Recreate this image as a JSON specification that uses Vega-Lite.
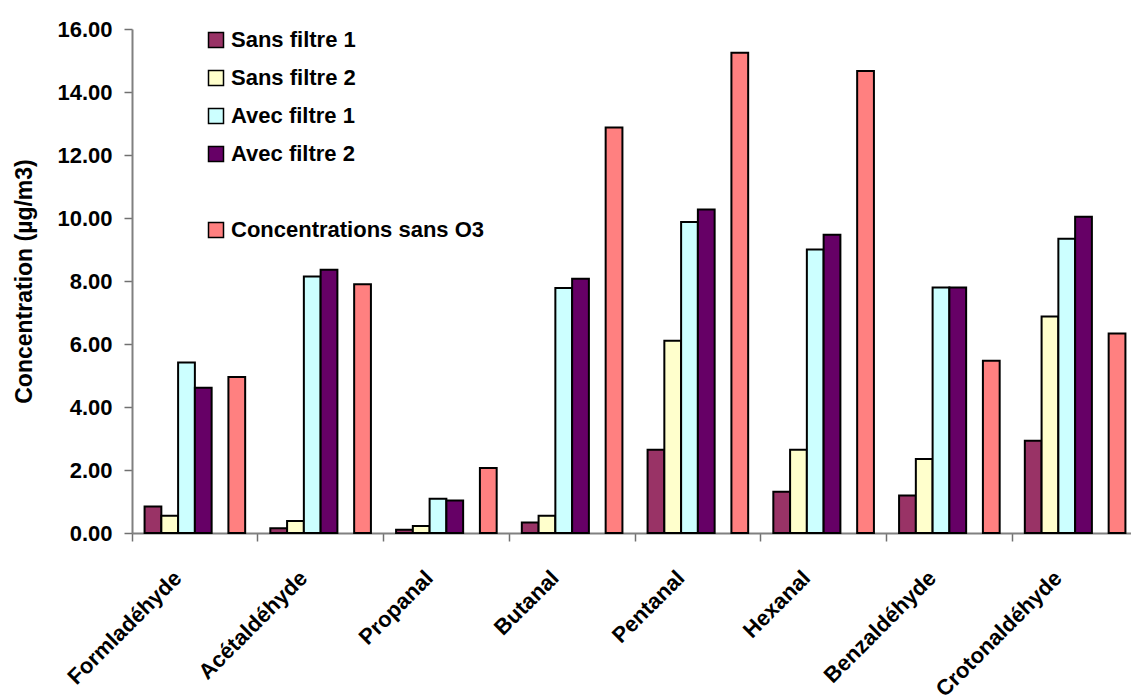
{
  "$schema": "https://vega.github.io/schema/vega-lite/v6.json",
  "width": 1006,
  "height": 504,
  "autosize": {"type": "none"},
  "padding": {"left": 132, "top": 29, "right": 0, "bottom": 167},
  "background": "white",
  "config": {
    "view": {"stroke": null},
    "font": "Liberation Sans",
    "axis": {
      "domainColor": "#808080",
      "domainWidth": 2,
      "tickColor": "#707070",
      "tickWidth": 1.5,
      "tickSize": 8,
      "labelColor": "black",
      "labelFontWeight": "bold",
      "labelFontSize": 22,
      "titleColor": "black",
      "titleFontWeight": "bold",
      "grid": false
    }
  },
  "data": {
    "values": [
      {"compose": "Formladéhyde", "serie": "Sans filtre 1", "valeur": 0.84},
      {"compose": "Formladéhyde", "serie": "Sans filtre 2", "valeur": 0.55},
      {"compose": "Formladéhyde", "serie": "Avec filtre 1", "valeur": 5.41},
      {"compose": "Formladéhyde", "serie": "Avec filtre 2", "valeur": 4.61},
      {"compose": "Formladéhyde", "serie": "Concentrations sans O3", "valeur": 4.95},
      {"compose": "Acétaldéhyde", "serie": "Sans filtre 1", "valeur": 0.15},
      {"compose": "Acétaldéhyde", "serie": "Sans filtre 2", "valeur": 0.38},
      {"compose": "Acétaldéhyde", "serie": "Avec filtre 1", "valeur": 8.14},
      {"compose": "Acétaldéhyde", "serie": "Avec filtre 2", "valeur": 8.36},
      {"compose": "Acétaldéhyde", "serie": "Concentrations sans O3", "valeur": 7.9},
      {"compose": "Propanal", "serie": "Sans filtre 1", "valeur": 0.1},
      {"compose": "Propanal", "serie": "Sans filtre 2", "valeur": 0.22},
      {"compose": "Propanal", "serie": "Avec filtre 1", "valeur": 1.09},
      {"compose": "Propanal", "serie": "Avec filtre 2", "valeur": 1.03},
      {"compose": "Propanal", "serie": "Concentrations sans O3", "valeur": 2.06},
      {"compose": "Butanal", "serie": "Sans filtre 1", "valeur": 0.33},
      {"compose": "Butanal", "serie": "Sans filtre 2", "valeur": 0.55},
      {"compose": "Butanal", "serie": "Avec filtre 1", "valeur": 7.78},
      {"compose": "Butanal", "serie": "Avec filtre 2", "valeur": 8.07},
      {"compose": "Butanal", "serie": "Concentrations sans O3", "valeur": 12.87},
      {"compose": "Pentanal", "serie": "Sans filtre 1", "valeur": 2.64},
      {"compose": "Pentanal", "serie": "Sans filtre 2", "valeur": 6.1},
      {"compose": "Pentanal", "serie": "Avec filtre 1", "valeur": 9.87},
      {"compose": "Pentanal", "serie": "Avec filtre 2", "valeur": 10.27},
      {"compose": "Pentanal", "serie": "Concentrations sans O3", "valeur": 15.25},
      {"compose": "Hexanal", "serie": "Sans filtre 1", "valeur": 1.31},
      {"compose": "Hexanal", "serie": "Sans filtre 2", "valeur": 2.64},
      {"compose": "Hexanal", "serie": "Avec filtre 1", "valeur": 9.0},
      {"compose": "Hexanal", "serie": "Avec filtre 2", "valeur": 9.47},
      {"compose": "Hexanal", "serie": "Concentrations sans O3", "valeur": 14.67},
      {"compose": "Benzaldéhyde", "serie": "Sans filtre 1", "valeur": 1.19},
      {"compose": "Benzaldéhyde", "serie": "Sans filtre 2", "valeur": 2.35},
      {"compose": "Benzaldéhyde", "serie": "Avec filtre 1", "valeur": 7.79},
      {"compose": "Benzaldéhyde", "serie": "Avec filtre 2", "valeur": 7.79},
      {"compose": "Benzaldéhyde", "serie": "Concentrations sans O3", "valeur": 5.47},
      {"compose": "Crotonaldéhyde", "serie": "Sans filtre 1", "valeur": 2.93},
      {"compose": "Crotonaldéhyde", "serie": "Sans filtre 2", "valeur": 6.87},
      {"compose": "Crotonaldéhyde", "serie": "Avec filtre 1", "valeur": 9.34},
      {"compose": "Crotonaldéhyde", "serie": "Avec filtre 2", "valeur": 10.04},
      {"compose": "Crotonaldéhyde", "serie": "Concentrations sans O3", "valeur": 6.33}
    ]
  },
  "mark": {"type": "bar", "stroke": "black", "strokeWidth": 2},
  "encoding": {
    "x": {
      "field": "compose",
      "type": "nominal",
      "sort": null,
      "scale": {"paddingInner": 0, "paddingOuter": 0},
      "axis": {
        "title": null,
        "bandPosition": 0,
        "labelAngle": -45,
        "labelAlign": "right",
        "labelBaseline": "top",
        "labelPadding": 26,
        "labelOffset": -24
      }
    },
    "xOffset": {
      "field": "serie",
      "scale": {
        "domain": ["Sans filtre 1", "Sans filtre 2", "Avec filtre 1", "Avec filtre 2", " ", "Concentrations sans O3"],
        "paddingInner": 0,
        "paddingOuter": 0.75
      }
    },
    "y": {
      "field": "valeur",
      "type": "quantitative",
      "scale": {"domain": [0, 16], "nice": false},
      "axis": {
        "title": "Concentration (µg/m3)",
        "titleFontSize": 23,
        "titlePadding": 20,
        "values": [0, 2, 4, 6, 8, 10, 12, 14, 16],
        "format": ".2f",
        "labelPadding": 12
      }
    },
    "color": {
      "field": "serie",
      "type": "nominal",
      "scale": {
        "domain": ["Sans filtre 1", "Sans filtre 2", "Avec filtre 1", "Avec filtre 2", " ", "Concentrations sans O3"],
        "range": ["#993366", "#FFFFCC", "#CCFFFF", "#660066", "white", "#FF8080"]
      },
      "legend": {
        "title": null,
        "orient": "none",
        "legendX": 73,
        "legendY": 0,
        "symbolType": "square",
        "symbolSize": 225,
        "symbolStrokeColor": "black",
        "symbolStrokeWidth": 1.5,
        "labelFontSize": 22,
        "labelFontWeight": "bold",
        "labelColor": "black",
        "labelLimit": 0,
        "labelOffset": 4,
        "rowPadding": 16,
        "encode": {
          "symbols": {
            "update": {
              "stroke": {"value": "black"},
              "strokeWidth": {"value": 1.5},
              "strokeOpacity": {"signal": "datum.value === ' ' ? 0 : 1"}
            }
          }
        }
      }
    }
  }
}
